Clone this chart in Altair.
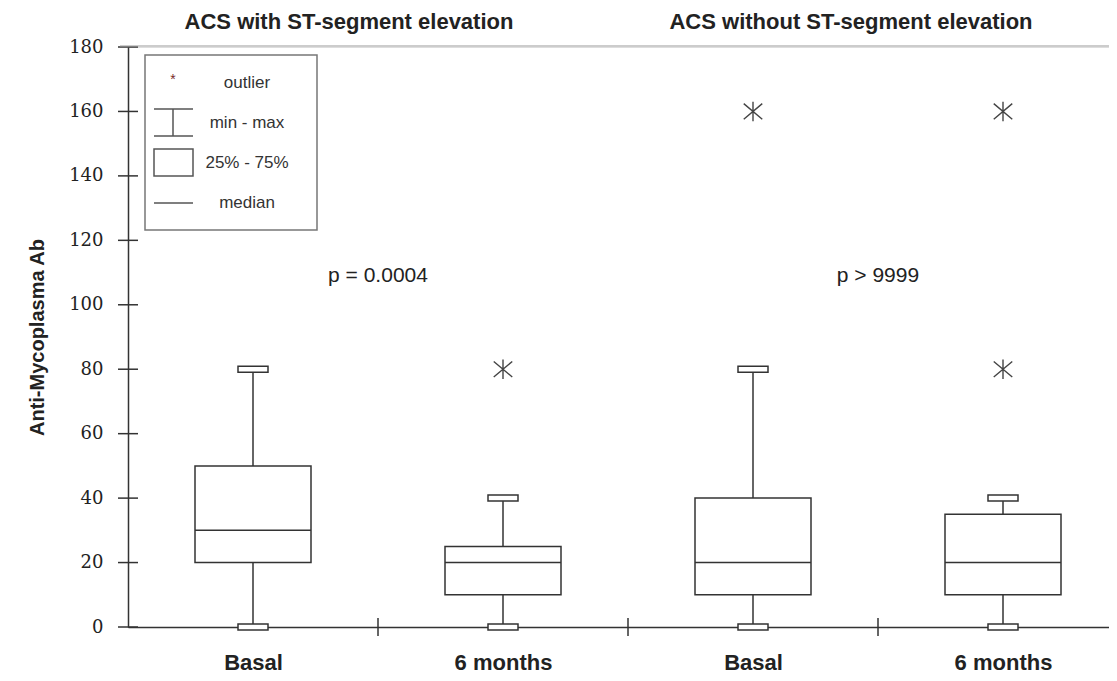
import altair as alt
import pandas as pd

# ---- data ----
categories = ["Basal", "6 months", "Basal", "6 months"]
positions = [1, 2, 3, 4]
mins = [0, 0, 0, 0]
q1s = [20, 10, 10, 10]
medians = [30, 20, 20, 20]
q3s = [50, 25, 40, 35]
maxs = [80, 40, 80, 40]

outlier_pos = [2, 3, 4, 4]
outlier_vals = [80, 160, 80, 160]

panel_titles = ["ACS with ST-segment elevation", "ACS without ST-segment elevation"]
p_labels = ["p = 0.0004", "p > 9999"]
p_pos = [1.5, 3.5]
p_vals = [109, 109]

y_ticks = [0, 20, 40, 60, 80, 100, 120, 140, 160, 180]
x_sep_ticks = [1.5, 2.5, 3.5]
legend_labels = ["outlier", "min - max", "25% - 75%", "median"]

# ---- layout ----
W, H = 981, 580
INK = "#333333"
SANS = "Liberation Sans"

boxes = pd.DataFrame({"pos": positions, "cat": categories, "min": mins, "q1": q1s,
                      "med": medians, "q3": q3s, "max": maxs})
caps = pd.DataFrame({"pos": positions * 2, "v": maxs + mins})
outs = pd.DataFrame({"pos": outlier_pos, "v": outlier_vals})
pdf = pd.DataFrame({"pos": p_pos, "v": p_vals, "t": p_labels})
ytk = pd.DataFrame({"v": y_ticks})
xtk = pd.DataFrame({"pos": x_sep_ticks})
one = pd.DataFrame({"a": [0]})

xs = alt.Scale(domain=[0.5, 0.5 + W / 250.0], nice=False, zero=False, padding=0)
ys = alt.Scale(domain=[0, 180], nice=False, zero=False, padding=0)

label_expr = "[" + ",".join("'" + c + "'" for c in categories) + "][datum.value - 1]"

x_axis = alt.Axis(values=positions, labelExpr=label_expr, ticks=False, grid=False,
                  domainColor=INK, domainWidth=1.5, labelFont=SANS, labelFontWeight="bold",
                  labelFontSize=22, labelColor="#222222", labelPadding=25, title=None)
y_axis = alt.Axis(values=y_ticks, ticks=False, grid=False, domainColor=INK, domainWidth=1.5,
                  labelFont="DejaVu Serif", labelFontSize=18, labelColor="#222222",
                  labelPadding=25, title="Anti-Mycoplasma Ab", titleFont=SANS,
                  titleFontWeight="bold", titleFontSize=20, titleColor="#222222",
                  titlePadding=21)


def X(f):
    return alt.X(f, scale=xs, axis=x_axis)


def Y(f):
    return alt.Y(f, scale=ys, axis=y_axis)


whisk = alt.Chart(boxes).mark_rule(color=INK, strokeWidth=1.5).encode(
    x=X("pos:Q"), y=Y("min:Q"), y2="max:Q",
)
box = alt.Chart(boxes).mark_bar(size=116, fill="white", stroke=INK, strokeWidth=1.5,
                                opacity=1).encode(
    x=X("pos:Q"), y=Y("q1:Q"), y2="q3:Q",
)
med = alt.Chart(boxes).mark_tick(size=116, thickness=1.5, color=INK, orient="horizontal",
                                 opacity=1).encode(
    x=X("pos:Q"), y=Y("med:Q"),
)
cap = alt.Chart(caps).mark_point(shape="M-1,-0.2L1,-0.2L1,0.2L-1,0.2Z", size=900,
                                 filled=True, fill="white", stroke=INK, strokeWidth=1.5,
                                 opacity=1).encode(
    x=X("pos:Q"), y=Y("v:Q"),
)
star = "M0,-1L0,1M-0.95,-0.8L0.95,0.8M-0.95,0.8L0.95,-0.8"
out = alt.Chart(outs).mark_point(shape=star, size=380, filled=False, stroke="#444444",
                                 strokeWidth=1.4, opacity=1).encode(
    x=X("pos:Q"), y=Y("v:Q"),
)
ptext = alt.Chart(pdf).mark_text(font=SANS, fontSize=21, color="#222222", align="center",
                                 baseline="middle").encode(
    x=X("pos:Q"), y=Y("v:Q"), text="t:N",
)
yt = alt.Chart(ytk).mark_rule(color=INK, strokeWidth=1.5).encode(
    x=alt.value(-10), x2=alt.value(10), y=Y("v:Q"),
)
xt = alt.Chart(xtk).mark_rule(color=INK, strokeWidth=1.5).encode(
    x=X("pos:Q"), y=alt.value(H - 9), y2=alt.value(H + 9),
)
topline = alt.Chart(one).mark_rule(color="#999999", strokeWidth=1).encode(
    x=alt.value(-8), x2=alt.value(W), y=alt.value(-1),
)

titles = []
for t, cx in zip(panel_titles, [221, 723]):
    titles.append(alt.Chart(one).mark_text(text=t, font=SANS, fontWeight="bold", fontSize=22,
                                           color="#222222", align="center",
                                           baseline="middle").encode(
        x=alt.value(cx), y=alt.value(-25)))

# legend (decoration)
leg = [
    alt.Chart(one).mark_rect(fill="white", stroke="#777777", strokeWidth=1.5).encode(
        x=alt.value(17), x2=alt.value(189), y=alt.value(8), y2=alt.value(183)),
    alt.Chart(one).mark_text(text="*", font=SANS, fontSize=14, color="#7a2a2a",
                             align="center", baseline="middle").encode(
        x=alt.value(45), y=alt.value(33)),
    alt.Chart(one).mark_rule(color="#555555", strokeWidth=1.5).encode(
        x=alt.value(26), x2=alt.value(65), y=alt.value(62)),
    alt.Chart(one).mark_rule(color="#555555", strokeWidth=1.5).encode(
        x=alt.value(26), x2=alt.value(65), y=alt.value(89)),
    alt.Chart(one).mark_rule(color="#555555", strokeWidth=1.5).encode(
        x=alt.value(45), y=alt.value(62), y2=alt.value(89)),
    alt.Chart(one).mark_rect(fill="white", stroke="#555555", strokeWidth=1.5).encode(
        x=alt.value(26), x2=alt.value(65), y=alt.value(102), y2=alt.value(129)),
    alt.Chart(one).mark_rule(color="#555555", strokeWidth=1.5).encode(
        x=alt.value(26), x2=alt.value(65), y=alt.value(156)),
]
for lab, cy in zip(legend_labels, [36, 76, 116, 156]):
    leg.append(alt.Chart(one).mark_text(text=lab, font=SANS, fontSize=17, color="#333333",
                                        align="center", baseline="middle").encode(
        x=alt.value(119), y=alt.value(cy)))

chart = alt.layer(
    whisk, box, med, cap, out, ptext, yt, xt, topline, *titles, *leg
).properties(
    width=W, height=H,
    autosize=alt.AutoSizeParams(type="none"),
    padding={"left": 120, "top": 39, "right": 0, "bottom": 46},
).configure_view(stroke=None).configure(background="white")

chart.save("out.html", embed_options={"renderer": "svg", "actions": False})
